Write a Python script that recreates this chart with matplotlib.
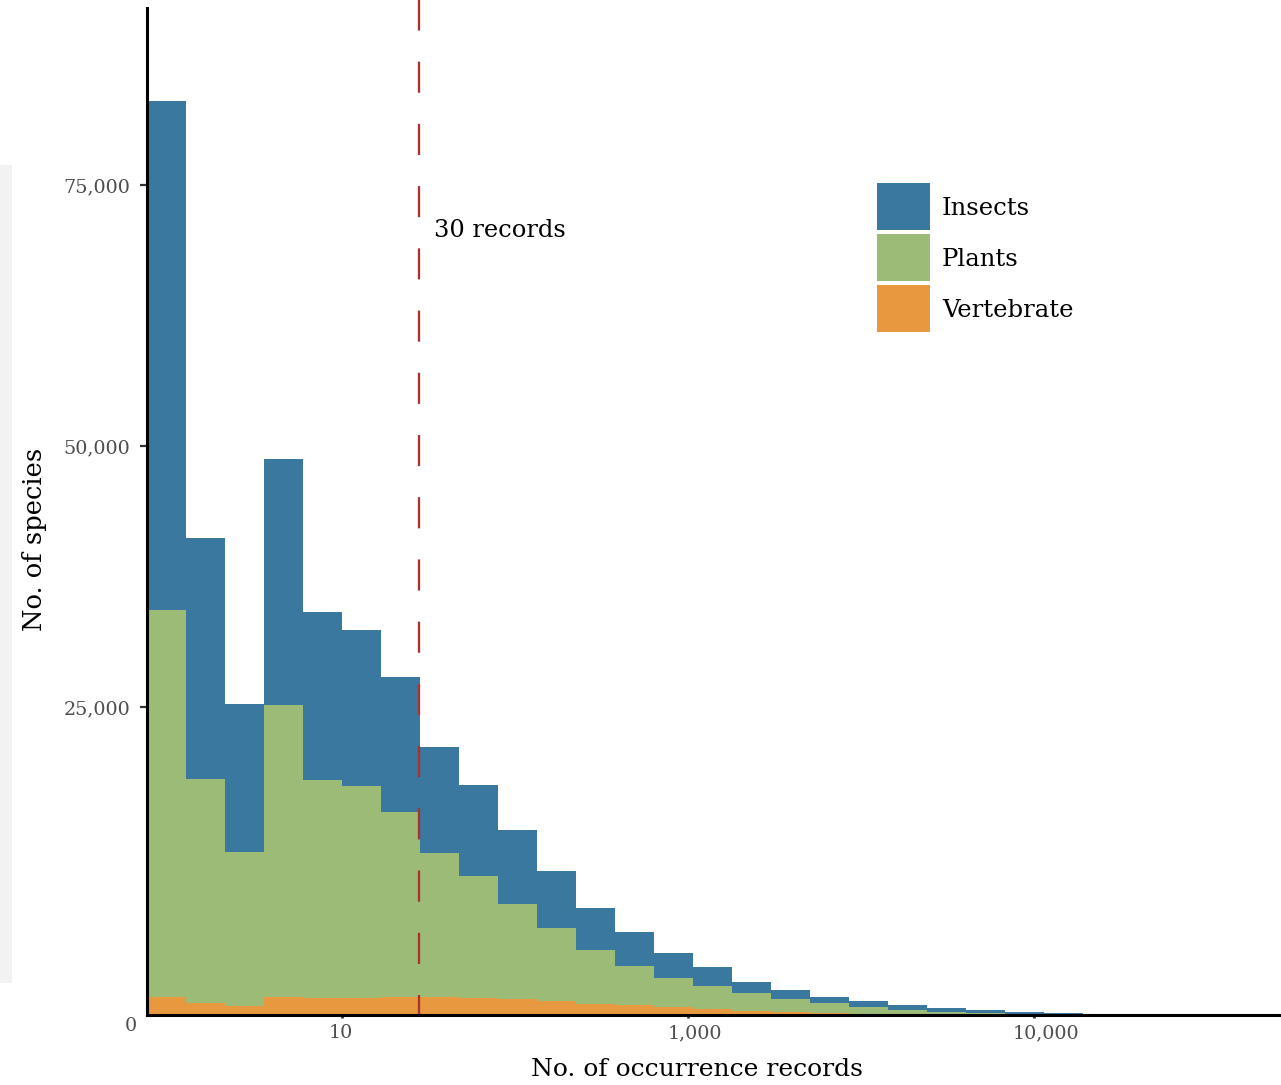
import numpy as np
import matplotlib
matplotlib.use("Agg")
import matplotlib.pyplot as plt
from matplotlib.patches import Rectangle
from matplotlib.container import BarContainer
from matplotlib.legend_handler import HandlerPatch, update_from_first_child
from matplotlib.transforms import ScaledTranslation

# ---- data ----
groups = ["Insects", "Plants", "Vertebrate"]
insects = [48760, 23090, 14180, 23560, 16090, 14940, 12930, 10150, 8720, 7090, 5460, 4020,
           3260, 2400, 1820, 1050, 860, 580, 580, 480, 380, 290, 190, 140]
plants = [37070, 21460, 14750, 27970, 20880, 20310, 17720, 13790, 11690, 9100, 6990, 5170,
          3740, 2780, 2200, 1720, 1250, 960, 670, 380, 240, 140, 100, 50]
vertebrate = [1720, 1150, 860, 1720, 1630, 1630, 1720, 1720, 1630, 1530, 1340, 1050,
              960, 770, 580, 380, 290, 190, 100, 100, 50, 50, 20, 10]
bin_log_start = -0.127      # log10 of first bin edge
bin_log_width = 0.2254      # log10 width of each bin
threshold = 27.9            # dashed line position
threshold_label = "30 records"
x_tick_values = [10, 1000, 100000]
x_tick_labels = ["10", "1,000", "10,000"]
y_tick_labels_values = [25000, 50000, 75000]
y_axis_offset = 4500        # reference's y tick labels sit offset from the bar baseline

colors = {"Insects": "#3b78a0", "Plants": "#9cbb76", "Vertebrate": "#e8983f"}
line_color = "#a8322d"
tick_color = "#4d4d4d"
FONT = "DejaVu Serif"

plt.rcParams["font.family"] = FONT
plt.rcParams["lines.scale_dashes"] = False

W, H = 1281, 1085
fig = plt.figure(figsize=(W / 100, H / 100), dpi=100)
fig.patch.set_facecolor("white")
ax = fig.add_axes([147 / W, 70 / H, (W - 147) / W, (1015 - 8) / H])

n = len(insects)
edges = 10 ** (bin_log_start + bin_log_width * np.arange(n + 1))
lefts = edges[:-1]
widths = np.diff(edges)

v = np.array(vertebrate, float)
p = np.array(plants, float)
i = np.array(insects, float)
ax.bar(lefts, v, width=widths, align="edge", color=colors["Vertebrate"], linewidth=0, label="Vertebrate")
ax.bar(lefts, p, width=widths, bottom=v, align="edge", color=colors["Plants"], linewidth=0, label="Plants")
ax.bar(lefts, i, width=widths, bottom=v + p, align="edge", color=colors["Insects"], linewidth=0, label="Insects")

ax.set_xscale("log")
ax.set_xlim(10 ** bin_log_start, 10 ** 6.428)
ax.set_ylim(0, 96460)

# dashed threshold line
ln = ax.axvline(threshold, ymin=0, ymax=1.009, color=line_color, linewidth=1.65, clip_on=False)
ln.set_linestyle((8.0, (22.4, 22.4)))
ax.annotate(threshold_label, xy=(threshold, 74500), xytext=(10.8, 0), textcoords="offset points",
            ha="left", va="baseline", fontsize=17.4, color="black")

# axes styling
for s in ["top", "right"]:
    ax.spines[s].set_visible(False)
for s in ["left", "bottom"]:
    ax.spines[s].set_linewidth(2.2)
    ax.spines[s].set_color("black")

ax.set_xticks(x_tick_values)
ax.set_xticklabels(x_tick_labels)
ax.xaxis.set_minor_locator(matplotlib.ticker.NullLocator())
ax.tick_params(axis="x", length=2, width=2, color="#333333", pad=4.8,
               labelsize=13.8, labelcolor=tick_color)
for lab, dx in zip(ax.get_xticklabels(), [-1, 7, 12]):
    lab.set_transform(lab.get_transform() + ScaledTranslation(dx / 100, 0, fig.dpi_scale_trans))
ax.set_yticks([y + y_axis_offset for y in y_tick_labels_values])
ax.set_yticklabels([f"{y:,}" for y in y_tick_labels_values])
ax.tick_params(axis="y", length=5, width=1.6, color="#333333", pad=7.2,
               labelsize=13.8, labelcolor=tick_color)
ax.annotate("0", xy=(0, 0), xycoords=("axes fraction", "data"), xytext=(-7.2, -7.9),
            textcoords="offset points", ha="right", va="center", fontsize=13.8, color=tick_color,
            annotation_clip=False)

# axis titles
fig.text(697 / W, 1 - 1069 / H, "No. of occurrence records", ha="center", va="center", fontsize=18)
fig.text(35 / W, 1 - 539 / H, "No. of species", ha="center", va="center", rotation=90, fontsize=18.5)

# legend
fs = 17.5
fs_px = fs * 100 / 72
key_h_px = 47                    # visible key height
key_pitch_px = 51                # vertical distance between keys
descent_px = 15                  # text baseline above key bottom
rect_h_em = key_h_px / fs_px
hh = 0.7 + (descent_px / fs_px) / 0.35   # handleheight giving that descent
box_h_px = hh * fs_px - descent_px      # height of legend handle box
sep_px = key_pitch_px - box_h_px


def key_rect(legend, orig_handle, xdescent, ydescent, width, height, fontsize):
    return Rectangle((-xdescent, -ydescent), width, rect_h_em * fontsize)


handles, labels = ax.get_legend_handles_labels()
order = [labels.index(g) for g in groups]
leg = ax.legend([handles[k] for k in order], [labels[k] for k in order],
                loc="upper left",
                bbox_to_anchor=(877 / W, 1 - (183 + (key_h_px - box_h_px)) / H), bbox_transform=fig.transFigure,
                frameon=False, fontsize=fs, handlelength=53 / fs_px, handleheight=hh,
                labelspacing=sep_px / fs_px, handletextpad=12 / fs_px, borderpad=0, borderaxespad=0,
                handler_map={BarContainer: HandlerPatch(patch_func=key_rect,
                                                        update_func=update_from_first_child)})

# light grey strip at the left edge of the reference
fig.patches.append(Rectangle((0, 1 - 983 / H), 12 / W, (983 - 165) / H, transform=fig.transFigure,
                             facecolor="#f2f2f2", edgecolor="none", zorder=0))

fig.savefig("out.png", dpi=100)
